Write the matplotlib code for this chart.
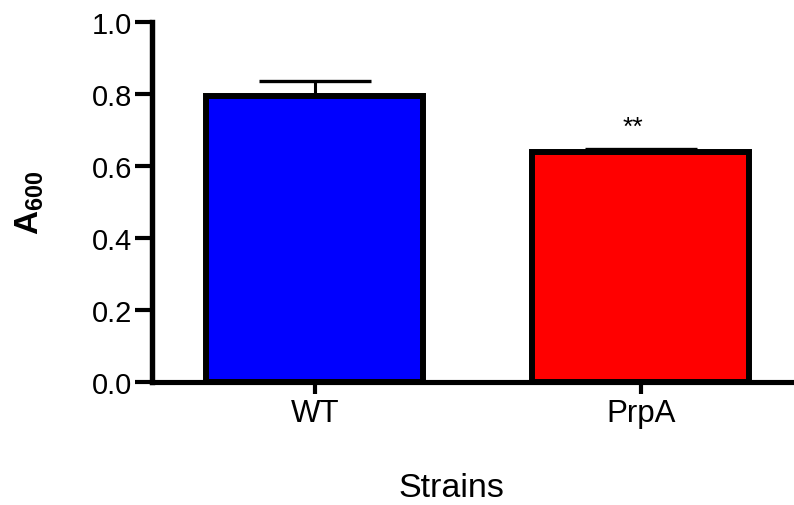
import matplotlib
matplotlib.use("Agg")
import matplotlib.pyplot as plt

categories = ["WT", "PrpA"]
values = [0.795, 0.639]
errors = [0.040, 0.008]
colors = ["#0000FF", "#FF0000"]
yticks = [0.0, 0.2, 0.4, 0.6, 0.8, 1.0]
ytick_labels = ["0.0", "0.2", "0.4", "0.6", "0.8", "1.0"]
sig_label = "**"

plt.rcParams['font.family'] = ['Liberation Sans', 'DejaVu Sans']
plt.rcParams['mathtext.fontset'] = 'custom'
plt.rcParams['mathtext.rm'] = 'Liberation Sans'
plt.rcParams['mathtext.bf'] = 'Liberation Sans:bold'

fig = plt.figure(figsize=(7.94, 5.06), dpi=100)
ax = fig.add_axes([151.7 / 794, 1 - 383 / 506, (794 - 151.7) / 794, (383 - 23) / 506])

x = list(range(len(categories)))
ax.bar(x, values, width=0.665, color=colors, edgecolor="black", linewidth=4.3, zorder=2)
ax.errorbar(x, values, yerr=[[0] * len(errors), errors], fmt="none", ecolor="black",
            elinewidth=2.2, capsize=40, capthick=2.4, zorder=1)

ax.text(0.975, values[1] + 0.05, sig_label, ha="center", va="baseline", fontsize=19)

ax.set_xlim(-0.5, 1.47)
ax.set_ylim(0, 1.0)
ax.set_xticks(x)
ax.set_xticklabels(categories, fontsize=22.5)
ax.set_yticks(yticks)
ax.set_yticklabels(ytick_labels, fontsize=21)

for s in ["top", "right"]:
    ax.spines[s].set_visible(False)
ax.spines["left"].set_linewidth(3.9)
ax.spines["bottom"].set_linewidth(3.7)
ax.tick_params(axis="y", length=12, width=3, pad=2, direction="out")
ax.tick_params(axis="x", length=8.6, width=3, pad=3, direction="out")

ax.set_xlabel("Strains", fontsize=24.5)
ax.xaxis.set_label_coords((451 - 151.7) / 642.3, (383 - 473) / 360)
ax.set_ylabel(r"$\mathbf{A}_{\mathbf{600}}$", fontsize=24)
ax.yaxis.set_label_coords((46 - 151.7) / 642.3, 0.5)

fig.savefig("out.png", dpi=100)
